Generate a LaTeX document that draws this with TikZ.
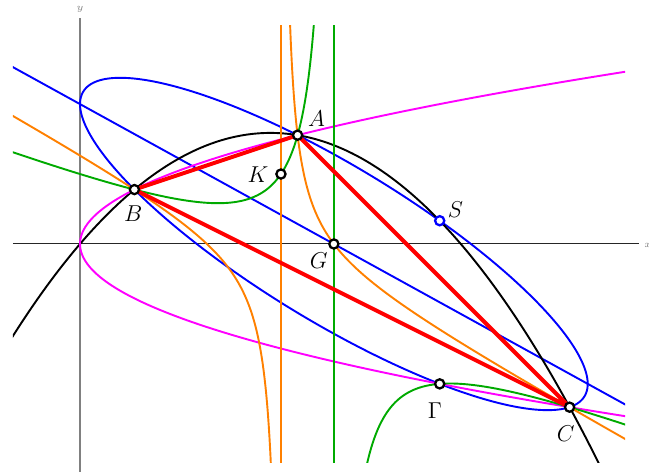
\documentclass[tikz,border=0pt]{standalone}
\usepackage{amsmath,amssymb}
\usetikzlibrary{calc}
\usepackage{xcolor}
\definecolor{hypgreen}{RGB}{0,170,0}
\definecolor{hyporange}{RGB}{255,128,0}
\definecolor{parmagenta}{RGB}{255,0,255}

\begin{document}
\begin{tikzpicture}[
    crv/.style={line width=1pt},
    pt/.style={circle, draw=black, fill=white, line width=1.2pt, inner sep=0pt, minimum size=4.8pt},
    lbl/.style={font=\fontsize{11.5}{13}\selectfont}
  ]
  \useasboundingbox (-1.4706,-4.191) rectangle (10.4596,4.485);
  % axes
  \draw[gray, line width=0.9pt] (0,-4.191) -- (0,4.154);
  \draw[black!85, line width=0.5pt] (-1.232,0) -- (10.28,0);
  \node[font=\tiny, gray] (ylab) at (0,4.32) {$y$};
  \node[font=\tiny, gray] (xlab) at (10.44,-0.03) {$x$};
  % triangle ABC, centroid G and the other points
  \coordinate (A) at (4,2);
  \coordinate (B) at (1,1);
  \coordinate (C) at (9,-3);
  \coordinate (G) at (14/3,0);
  \coordinate (K) at (181/49,9/7);
  \coordinate (S) at (324/49,0.42732);
  \coordinate (Gam) at (324/49,-18/7);
  \begin{scope}
    \clip (-1.232,-4.02) rectangle (10.02,4.02);
    % Steiner ellipse and its diameter through G
    \draw[blue, crv] plot[domain=0:360, samples=240, smooth]
      ({14/3-2/3*cos(\x)+8/sqrt(3)*sin(\x)}, {2*cos(\x)-4/sqrt(3)*sin(\x)});
    \draw[blue, crv] plot[domain=-1.5:10.5, samples=2] (\x, {-27/49*(\x-14/3)});
    % the two parabolas through O, A, B, C
    \draw[black, crv] plot[domain=-1.5:10.5, samples=120, smooth] (\x, {(7*\x-\x*\x)/6});
    \draw[parmagenta, crv] plot[domain=-3.4:3.4, samples=120, smooth] ({\x*\x}, \x);
    % hyperbola with asymptote x = 14/3
    \draw[hypgreen, crv] (14/3,-4.1) -- (14/3,4.1);
    \draw[hypgreen, crv] plot[domain=-1.5:4.4, samples=200, smooth]
      (\x, {(-7*\x*\x+49*\x-108)/(18*\x-84)});
    \draw[hypgreen, crv] plot[domain=5.1:10.5, samples=150, smooth]
      (\x, {(-7*\x*\x+49*\x-108)/(18*\x-84)});
    % hyperbola through A, B, C, G
    \draw[hyporange, crv] (181/49,-4.1) -- (181/49,4.1);
    \draw[hyporange, crv] plot[domain=-1.5:3.62, samples=250, smooth]
      (\x, {(-27*\x*\x+189*\x-294)/(49*\x-181)});
    \draw[hyporange, crv] plot[domain=3.76:10.5, samples=250, smooth]
      (\x, {(-27*\x*\x+189*\x-294)/(49*\x-181)});
  \end{scope}
  \draw[red, line width=2.1pt, line join=round] (A) -- (B) -- (C) -- cycle;
  % marked points
  \foreach \p in {A,B,C,G,K,Gam}{
    \node[pt] (\p-pt) at (\p) {};
  }
  \node[pt, draw=blue] (S-pt) at (S) {};
  % labels
  \node[lbl] (A-lab) at ($(A)+(0.35,0.31)$) {$A$};
  \node[lbl] (B-lab) at ($(B)+(-0.02,-0.44)$) {$B$};
  \node[lbl] (C-lab) at ($(C)+(-0.07,-0.48)$) {$C$};
  \node[lbl] (G-lab) at ($(G)+(-0.28,-0.31)$) {$G$};
  \node[lbl] (K-lab) at ($(K)+(-0.42,-0.02)$) {$K$};
  \node[lbl] (S-lab) at ($(S)+(0.29,0.20)$) {$S$};
  \node[lbl] (Gam-lab) at ($(Gam)+(-0.09,-0.50)$) {$\Gamma$};
\end{tikzpicture}
\end{document}
